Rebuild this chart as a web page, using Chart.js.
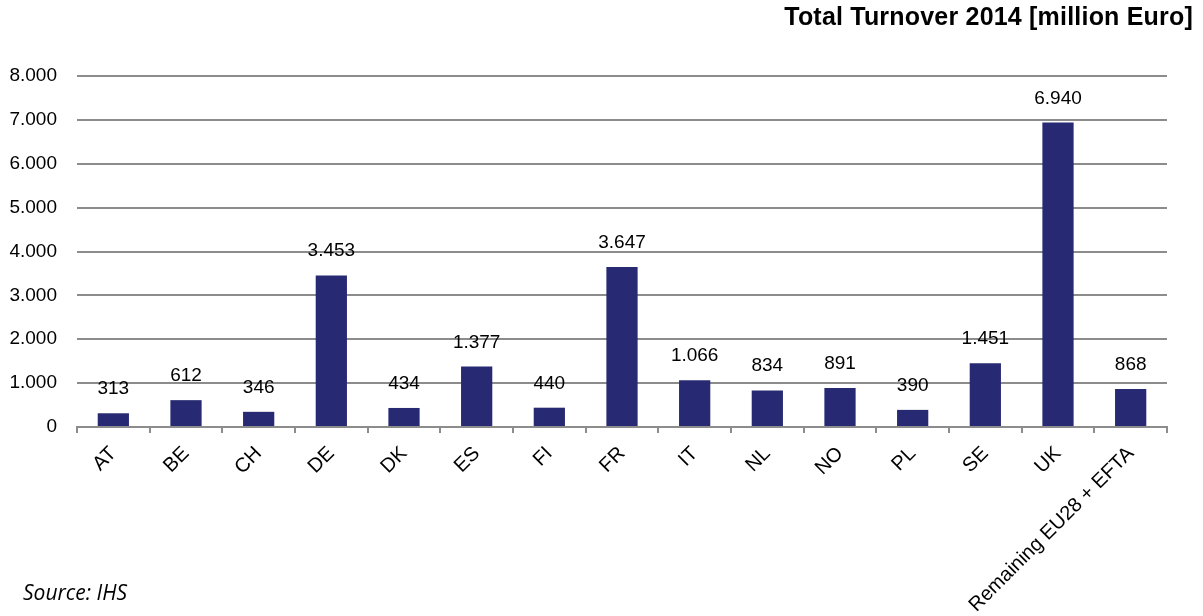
<!DOCTYPE html>
<html>
<head>
<meta charset="utf-8">
<script src="https://cdn.jsdelivr.net/npm/chart.js@4"></script>
<style>
  body { margin: 0; background: #fff; }
  #wrap { position: relative; width: 1203px; height: 616px; }
  #title {
    position: absolute; right: 10px; top: 2px;
    font: bold 25px "Liberation Sans", Arial, sans-serif; color: #000;
    letter-spacing: 0.2px;
  }
  #source {
    position: absolute; left: 23px; top: 578px;
    font: italic 21px "Open Sans", sans-serif; color: #000;
  }
</style>
</head>
<body>
<div id="wrap">
  <canvas id="chart" width="1203" height="616"></canvas>
  <div id="title">Total Turnover 2014 [million Euro]</div>
  <div id="source">Source: IHS</div>
</div>
<script>
const countries = ['AT', 'BE', 'CH', 'DE', 'DK', 'ES', 'FI', 'FR', 'IT', 'NL', 'NO', 'PL', 'SE', 'UK', 'Remaining EU28 + EFTA'];
const turnover = [313, 612, 346, 3453, 434, 1377, 440, 3647, 1066, 834, 891, 390, 1451, 6940, 868];
const yTicks = [0, 1000, 2000, 3000, 4000, 5000, 6000, 7000, 8000];

const barColor = '#272a73';
const gridColor = '#8c8c8c';
const font = "'Liberation Sans', Arial, sans-serif";

// 1234 -> "1.234"
function fmt(v)
{
    return String(v).replace(/\B(?=(\d{3})+(?!\d))/g, '.');
}

const valueLabels = {
    id: 'valueLabels',
    afterDatasetsDraw(chart) {
        const ctx = chart.ctx;
        const meta = chart.getDatasetMeta(0);
        ctx.save();
        ctx.font = '19px ' + font;
        ctx.fillStyle = '#000';
        ctx.textAlign = 'center';
        ctx.textBaseline = 'alphabetic';
        meta.data.forEach((bar, i) => {
            ctx.fillText(fmt(turnover[i]), bar.x, bar.y - 19);
        });
        ctx.restore();
    }
};

new Chart(document.getElementById('chart'), {
    type: 'bar',
    data: {
        labels: countries,
        datasets: [{
            data: turnover,
            backgroundColor: barColor,
            borderWidth: 0,
            barPercentage: 0.43,
            categoryPercentage: 1
        }]
    },
    plugins: [valueLabels],
    options: {
        responsive: false,
        animation: false,
        layout: { padding: { top: 76, right: 36, left: 0, bottom: 0 } },
        plugins: {
            legend: { display: false },
            tooltip: { enabled: false },
            title: { display: false }
        },
        scales: {
            x: {
                afterFit: (axis) => { axis.height = 189; },
                grid: {
                    offset: true,
                    drawOnChartArea: false,
                    drawTicks: true,
                    tickLength: 6,
                    color: gridColor,
                    lineWidth: 2
                },
                border: { display: true, color: gridColor, width: 2 },
                ticks: {
                    maxRotation: 45,
                    minRotation: 45,
                    autoSkip: false,
                    padding: 9,
                    color: '#000',
                    font: { family: font, size: 20 }
                }
            },
            y: {
                min: 0,
                max: 8000,
                afterFit: (axis) => { axis.width = 77; },
                afterBuildTicks: (axis) => { axis.ticks = yTicks.map((v) => ({ value: v })); },
                grid: {
                    drawTicks: false,
                    color: gridColor,
                    lineWidth: 2
                },
                border: { display: false },
                ticks: {
                    padding: 20,
                    color: '#000',
                    font: { family: font, size: 19 },
                    callback: (v) => fmt(v)
                }
            }
        }
    }
});
</script>
</body>
</html>
